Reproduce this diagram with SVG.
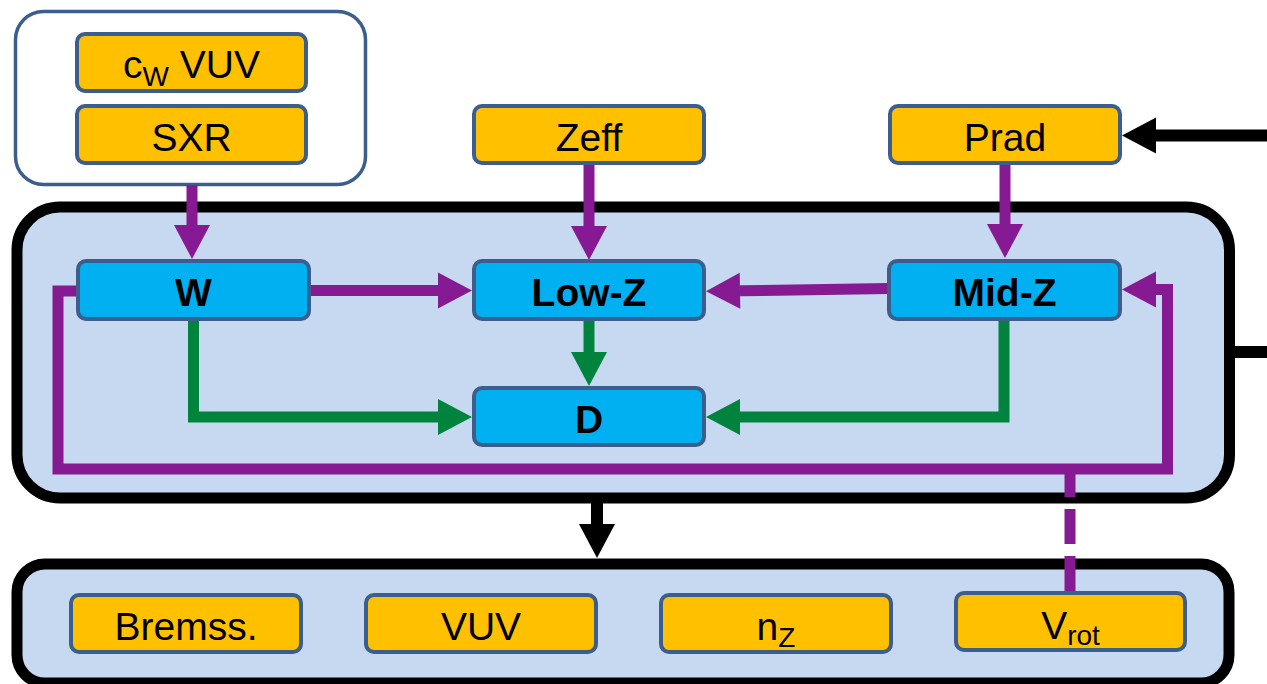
<svg xmlns="http://www.w3.org/2000/svg" width="1267" height="684" viewBox="0 0 1267 684">
<defs>
<style>
.lbl{font-family:"Liberation Sans",Arial,sans-serif;font-size:39px;fill:#000;text-anchor:middle}
.bold{font-weight:bold}
.in{fill:#FFC000;stroke:#3B5E8C;stroke-width:4}
.mod{fill:#00B0F0;stroke:#3B5E8C;stroke-width:4}
.cont{fill:#C6D9F1;stroke:#000;stroke-width:11}
.p{fill:none;stroke:#861A92;stroke-width:11}
.g{fill:none;stroke:#00843D;stroke-width:11}
.k{fill:none;stroke:#000;stroke-width:12}
</style>
<marker id="ap" markerUnits="userSpaceOnUse" markerWidth="36" markerHeight="36" refX="0" refY="18" orient="auto" overflow="visible"><path d="M0,0 L34,18 L0,36 z" fill="#861A92"/></marker>
<marker id="ag" markerUnits="userSpaceOnUse" markerWidth="36" markerHeight="36" refX="0" refY="18" orient="auto" overflow="visible"><path d="M0,0 L34,18 L0,36 z" fill="#00843D"/></marker>
<marker id="ak" markerUnits="userSpaceOnUse" markerWidth="36" markerHeight="36" refX="0" refY="18" orient="auto" overflow="visible"><path d="M0,0 L34,18 L0,36 z" fill="#000"/></marker>
</defs>
<rect width="1267" height="684" fill="#fff"/>

<g id="inputs-group"><rect x="15.5" y="11.5" width="350" height="173" rx="28" fill="#fff" stroke="#3B5E8C" stroke-width="3.5"/></g>
<g id="model-group"><rect class="cont" x="17" y="207" width="1212.5" height="291" rx="43"/></g>
<g id="output-group"><rect class="cont" x="17" y="564" width="1212" height="119" rx="28"/></g>

<g id="connectors">
<line class="k" x1="1267" y1="135.5" x2="1156" y2="135.5" marker-end="url(#ak)"/>
<line class="k" x1="1234" y1="352" x2="1267" y2="352"/>
<line class="k" x1="597" y1="503" x2="597" y2="524" marker-end="url(#ak)"/>
<line class="p" x1="192" y1="185" x2="192" y2="225" marker-end="url(#ap)"/>
<line class="p" x1="589" y1="163" x2="589" y2="226" marker-end="url(#ap)"/>
<line class="p" x1="1005" y1="163" x2="1005" y2="224" marker-end="url(#ap)"/>
<line class="p" x1="309" y1="290.5" x2="438" y2="290.5" marker-end="url(#ap)"/>
<line class="p" x1="889" y1="288.5" x2="740" y2="290.8" marker-end="url(#ap)"/>
<path class="p" d="M78,291 H58 V469 H1167.5 V289.5 H1156" marker-end="url(#ap)"/>
<line class="p" x1="1070" y1="465" x2="1070" y2="592" stroke-dasharray="32 12 35 12 35 12"/>
<line class="g" x1="589" y1="319" x2="589" y2="352" marker-end="url(#ag)"/>
<path class="g" d="M193.5,319 V417 H438" marker-end="url(#ag)"/>
<path class="g" d="M1004,319 V417 H740" marker-end="url(#ag)"/>
</g>

<g id="cw-vuv"><rect class="in" x="77" y="34" width="229" height="57" rx="8"/><text class="lbl" x="191.5" y="78">c<tspan font-size="28" dy="8">W</tspan><tspan dy="-8"> VUV</tspan></text></g>
<g id="sxr"><rect class="in" x="77" y="106" width="229" height="57" rx="8"/><text class="lbl" x="191.5" y="151">SXR</text></g>
<g id="zeff"><rect class="in" x="474" y="106" width="230" height="57" rx="8"/><text class="lbl" x="589" y="151">Zeff</text></g>
<g id="prad"><rect class="in" x="890" y="106" width="230" height="57" rx="8"/><text class="lbl" x="1005" y="151">Prad</text></g>

<g id="w"><rect class="mod" x="78" y="261" width="231" height="58" rx="8"/><text class="lbl bold" x="193.5" y="306">W</text></g>
<g id="low-z"><rect class="mod" x="474" y="261" width="230" height="58" rx="8"/><text class="lbl bold" x="589" y="306">Low-Z</text></g>
<g id="mid-z"><rect class="mod" x="889" y="261" width="231" height="58" rx="8"/><text class="lbl bold" x="1004.5" y="306">Mid-Z</text></g>
<g id="d"><rect class="mod" x="474" y="388" width="230" height="57" rx="8"/><text class="lbl bold" x="589" y="433">D</text></g>

<g id="bremss"><rect class="in" x="71" y="595" width="230" height="57" rx="8"/><text class="lbl" x="186" y="640">Bremss.</text></g>
<g id="vuv"><rect class="in" x="366" y="595" width="230" height="57" rx="8"/><text class="lbl" x="481" y="640">VUV</text></g>
<g id="nz"><rect class="in" x="661" y="595" width="230" height="57" rx="8"/><text class="lbl" x="776" y="640">n<tspan font-size="28" dy="7">Z</tspan></text></g>
<g id="vrot"><rect class="in" x="956" y="593" width="229" height="57" rx="8"/><text class="lbl" x="1070.5" y="639">V<tspan font-size="28" dy="6">rot</tspan></text></g>
</svg>
